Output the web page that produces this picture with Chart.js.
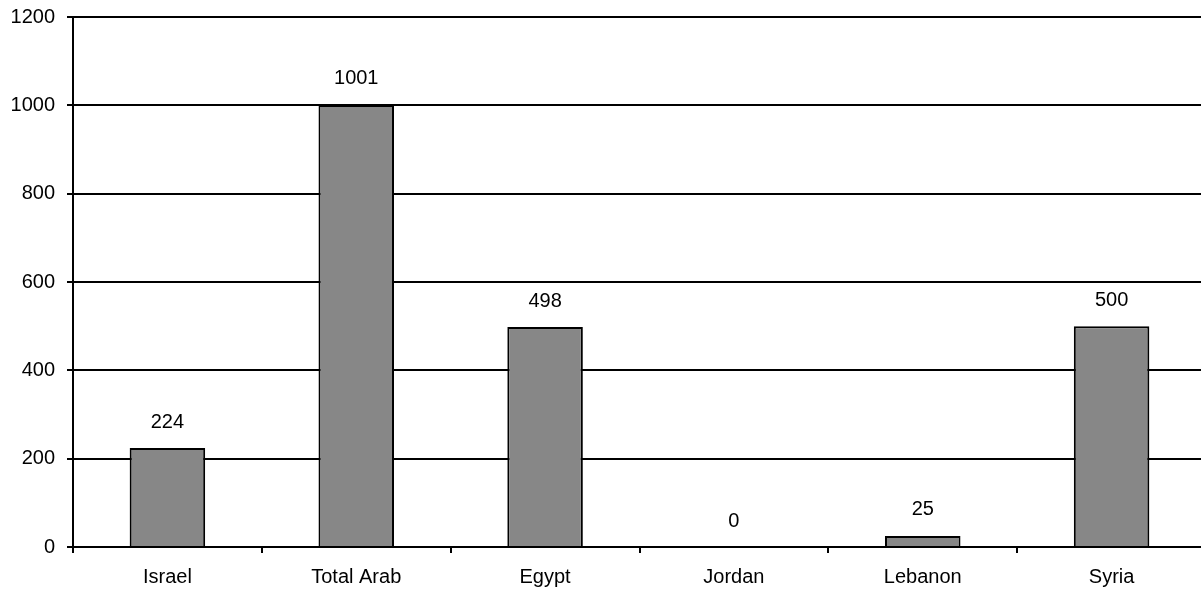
<!DOCTYPE html>
<html>
<head>
<meta charset="utf-8">
<script src="https://cdn.jsdelivr.net/npm/chart.js@4"></script>
<style>
html,body{margin:0;padding:0;background:#fff;overflow:hidden;}
#wrap{position:absolute;left:0;top:0;width:1210px;height:593px;}
</style>
</head>
<body>
<div id="wrap"><canvas id="c" width="1210" height="593"></canvas></div>
<script>
const categories = ["Israel", "Total Arab", "Egypt", "Jordan", "Lebanon", "Syria"];
const values = [224, 1001, 498, 0, 25, 500];
const yTicks = [0, 200, 400, 600, 800, 1000, 1200];

const FONT = '"Liberation Sans", Arial, sans-serif';

const valueLabels = {
  id: 'valueLabels',
  afterDatasetsDraw(chart) {
    const ctx = chart.ctx;
    const meta = chart.getDatasetMeta(0);
    ctx.save();
    ctx.font = '20px ' + FONT;
    ctx.fillStyle = '#000';
    ctx.textAlign = 'center';
    ctx.textBaseline = 'middle';
    meta.data.forEach((bar, i) => {
      ctx.fillText(String(values[i]), bar.x, bar.y - 26);
    });
    ctx.restore();
  }
};

new Chart(document.getElementById('c'), {
  type: 'bar',
  data: {
    labels: categories,
    datasets: [{
      data: values,
      backgroundColor: '#878787',
      borderColor: '#000',
      borderWidth: 2,
      barPercentage: 0.4,
      categoryPercentage: 1.0
    }]
  },
  options: {
    responsive: false,
    animation: false,
    devicePixelRatio: 1,
    layout: { padding: { top: 17, right: 4, left: 0, bottom: 0 } },
    plugins: { legend: { display: false }, tooltip: { enabled: false } },
    scales: {
      x: {
        offset: true,
        grid: { display: true, drawOnChartArea: false, drawTicks: true, tickLength: 6, color: '#000', lineWidth: 2, offset: true },
        border: { display: true, color: '#000', width: 2 },
        ticks: { color: '#000', font: { family: FONT, size: 20 }, padding: 12, maxRotation: 0 },
        afterFit(s) { s.height = 46; s.paddingLeft = 0; s.paddingRight = 0; }
      },
      y: {
        min: 0, max: 1200,
        afterBuildTicks(s) { s.ticks = yTicks.map(v => ({ value: v })); },
        grid: { color: '#000', lineWidth: 2, tickLength: 6, drawTicks: true },
        border: { display: true, color: '#000', width: 2 },
        ticks: { color: '#000', font: { family: FONT, size: 20 }, padding: 12, callback: v => String(v) },
        afterFit(s) { s.width = 73; s.paddingTop = 0; s.paddingBottom = 0; }
      }
    }
  },
  plugins: [valueLabels]
});
</script>
</body>
</html>
